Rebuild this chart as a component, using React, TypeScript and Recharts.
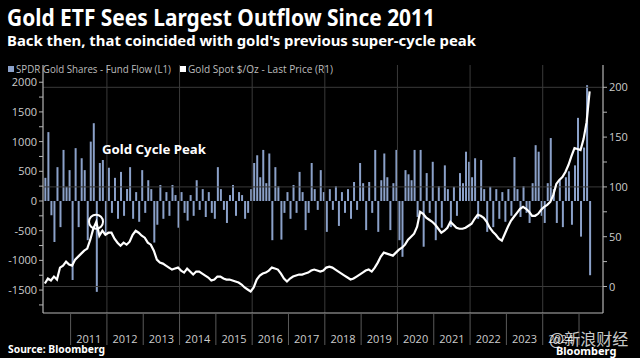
import React from 'react'
import { ComposedChart, Bar, Line, XAxis, YAxis, ReferenceLine, ReferenceDot } from 'recharts'

// SPDR Gold Shares fund flow (L1), monthly
const FLOW_2010 = [390, 1160, -240, -690, 570, -440, 860, 240, 520]
const FLOW_2011 = [-1330, 890, -440, 720, 520, -660, 1000, 1310, -1530, 640, 690, -570]
const FLOW_2012 = [560, -200, 390, -300, 490, -250, 200, 570, -300, 150, -350, 520]
const FLOW_2013 = [-200, 350, 200, -700, -400, 270, -300, 150, -250, 270, 100, -450]
const FLOW_2014 = [150, -200, -330, 100, -250, 350, -150, 200, -270, 150, -200, -300]
const FLOW_2015 = [570, 200, -150, -370, 100, 270, -250, 150, 100, -300, -200, 200]
const FLOW_2016 = [640, 770, 400, 860, 300, 800, -660, 570, 250, -650, -200, 150]
const FLOW_2017 = [-300, 270, -200, 490, 150, -490, -200, 640, 200, -150, 520, 150]
const FLOW_2018 = [-520, 200, -150, 250, -420, 150, -200, 200, -300, 320, -150, 640]
const FLOW_2019 = [300, -490, 320, -200, 860, -520, 350, 800, 400, -490, 300, 860]
const FLOW_2020 = [-660, -940, 520, 450, 350, 860, -270, 860, -770, 470, -200, 660]
const FLOW_2021 = [-660, 250, -450, 600, 200, -440, 240, -250, 470, 300, 830, 660]
const FLOW_2022 = [400, 720, -300, 690, 200, -520, 240, -440, 200, -300, 150, -350]
const FLOW_2023 = [200, -250, 740, 200, -270, 250, -200, -370, 300, 940, 830, -250]
const FLOW_2024 = [-370, 300, 1060, 200, -370, 350, -440, 400, 500, -400, 600, 1400]
const FLOW_2025 = [-600, 900, 1950, -1250]

// Gold spot (R1), monthly
const GOLD_2010 = [3, 8, 6, 10, 7, 19, 21, 25, 22]
const GOLD_2011 = [21, 27, 30, 33, 36, 38, 47, 58, 65, 51, 56, 52]
const GOLD_2012 = [54, 54, 48, 44, 41, 44, 42, 45, 52, 56, 54, 51]
const GOLD_2013 = [49, 44, 42, 36, 27, 24, 23, 21, 19, 17, 18, 19]
const GOLD_2014 = [16, 14, 18, 15, 12, 15, 15, 13, 11, 9, 6, 7]
const GOLD_2015 = [10, 10, 8, 7, 7, 6, 5, 4, 2, -1, -3, -5]
const GOLD_2016 = [-1, 7, 11, 13, 14, 16, 19, 18, 17, 13, 8, 5]
const GOLD_2017 = [8, 10, 11, 12, 12, 13, 14, 16, 17, 16, 15, 16]
const GOLD_2018 = [19, 20, 19, 17, 15, 13, 11, 9, 7, 8, 10, 12]
const GOLD_2019 = [14, 16, 17, 15, 19, 24, 30, 34, 33, 32, 31, 34]
const GOLD_2020 = [37, 39, 42, 47, 50, 53, 60, 75, 73, 69, 67, 65]
const GOLD_2021 = [62, 58, 54, 56, 59, 65, 62, 59, 58, 58, 59, 61]
const GOLD_2022 = [63, 68, 72, 71, 69, 65, 59, 55, 52, 48, 46, 53]
const GOLD_2023 = [60, 66, 70, 74, 78, 80, 78, 75, 71, 71, 73, 77]
const GOLD_2024 = [80, 82, 85, 92, 103, 107, 110, 115, 122, 131, 139, 138]
const GOLD_2025 = [137, 148, 165, 196]

const YEAR_ROWS = [
  { year: 2010, firstMonth: 4, flow: FLOW_2010, gold: GOLD_2010 },
  { year: 2011, firstMonth: 1, flow: FLOW_2011, gold: GOLD_2011 },
  { year: 2012, firstMonth: 1, flow: FLOW_2012, gold: GOLD_2012 },
  { year: 2013, firstMonth: 1, flow: FLOW_2013, gold: GOLD_2013 },
  { year: 2014, firstMonth: 1, flow: FLOW_2014, gold: GOLD_2014 },
  { year: 2015, firstMonth: 1, flow: FLOW_2015, gold: GOLD_2015 },
  { year: 2016, firstMonth: 1, flow: FLOW_2016, gold: GOLD_2016 },
  { year: 2017, firstMonth: 1, flow: FLOW_2017, gold: GOLD_2017 },
  { year: 2018, firstMonth: 1, flow: FLOW_2018, gold: GOLD_2018 },
  { year: 2019, firstMonth: 1, flow: FLOW_2019, gold: GOLD_2019 },
  { year: 2020, firstMonth: 1, flow: FLOW_2020, gold: GOLD_2020 },
  { year: 2021, firstMonth: 1, flow: FLOW_2021, gold: GOLD_2021 },
  { year: 2022, firstMonth: 1, flow: FLOW_2022, gold: GOLD_2022 },
  { year: 2023, firstMonth: 1, flow: FLOW_2023, gold: GOLD_2023 },
  { year: 2024, firstMonth: 1, flow: FLOW_2024, gold: GOLD_2024 },
  { year: 2025, firstMonth: 1, flow: FLOW_2025, gold: GOLD_2025 },
]

const YEAR_TICKS = [2011, 2012, 2013, 2014, 2015, 2016, 2017, 2018, 2019, 2020, 2021, 2022, 2023, 2024, 2025]
const GRID_YEARS = [2012, 2014, 2016, 2018, 2020, 2022, 2024]
const LEFT_TICKS = [-1750, -1500, -1250, -1000, -750, -500, -250, 0, 250, 500, 750, 1000, 1250, 1500, 1750, 2000]
const RIGHT_TICKS = [0, 25, 50, 75, 100, 125, 150, 175, 200]
const RIGHT_GRID = [0, 100, 200]

const X_MIN = 2010.24
const X_MAX = 2025.66
const LEFT_DOMAIN = [-1886, 2290]
const RIGHT_DOMAIN = [-26.6, 222.4]
const PLOT_W = 560
const HALF_YEAR = (0.5 * PLOT_W) / (X_MAX - X_MIN)

const data = YEAR_ROWS.flatMap((r) =>
  r.flow.map((f, k) => ({
    t: r.year + (r.firstMonth - 1 + k + 0.5) / 12,
    flow: f,
    gold: r.gold[k],
  }))
)

const FONT = "'Open Sans', 'DejaVu Sans', sans-serif"
const AXIS = '#b5b5b5'
const LABEL = '#cccccc'
const GRID = '#3a3a3a'

const YearTick = ({ x, y, payload }: any) => {
  if (payload.value >= 2025) return <g />
  return (
    <text x={x + HALF_YEAR} y={y - 4} textAnchor="middle" fill={LABEL} fontSize={11} fontFamily={FONT}>
      {payload.value}
    </text>
  )
}

const LeftTick = ({ x, y, payload }: any) => {
  if (payload.value % 500 !== 0) return <g />
  return (
    <text x={x} y={y} dy={4} textAnchor="end" fill={LABEL} fontSize={11} fontFamily={FONT}>
      {payload.value}
    </text>
  )
}

const RightTick = ({ x, y, payload }: any) => {
  if (payload.value % 50 !== 0) return <g />
  return (
    <text x={x} y={y} dy={4} textAnchor="start" fill={LABEL} fontSize={11} fontFamily={FONT}>
      {payload.value}
    </text>
  )
}

export default function App() {
  return (
    <div style={{ position: 'absolute', left: 0, top: 0, width: 640, height: 358, background: '#000', overflow: 'hidden' }}>
      <div style={{ position: 'absolute', left: 0, top: 0 }}>
        <ComposedChart width={640} height={358} data={data} margin={{ top: 65, right: 0, bottom: 0, left: 0 }}>
          <XAxis
            dataKey="t"
            type="number"
            domain={[X_MIN, X_MAX]}
            allowDataOverflow
            ticks={YEAR_TICKS}
            interval={0}
            height={45}
            tickSize={32}
            tick={<YearTick />}
            axisLine={{ stroke: AXIS, strokeWidth: 1.2 }}
            tickLine={{ stroke: '#5a5a5a' }}
          />
          <YAxis
            yAxisId="left"
            orientation="left"
            width={43}
            domain={LEFT_DOMAIN}
            allowDataOverflow
            ticks={LEFT_TICKS}
            interval={0}
            tickSize={4}
            tick={<LeftTick />}
            axisLine={{ stroke: AXIS, strokeWidth: 1.2 }}
            tickLine={{ stroke: AXIS }}
          />
          <YAxis
            yAxisId="right"
            orientation="right"
            width={37}
            domain={RIGHT_DOMAIN}
            allowDataOverflow
            ticks={RIGHT_TICKS}
            interval={0}
            tickSize={4}
            tick={<RightTick />}
            axisLine={{ stroke: AXIS, strokeWidth: 1.2 }}
            tickLine={{ stroke: AXIS }}
          />
          {GRID_YEARS.map((yr) => (
            <ReferenceLine key={'gx' + yr} x={yr} yAxisId="right" stroke={GRID} strokeWidth={1} />
          ))}
          {RIGHT_GRID.map((v) => (
            <ReferenceLine key={'gy' + v} y={v} yAxisId="right" stroke={GRID} strokeWidth={1} />
          ))}
          <Bar yAxisId="left" dataKey="flow" fill="#8ba1c9" barSize={2} isAnimationActive={false} />
          <Line
            yAxisId="right"
            dataKey="gold"
            type="linear"
            stroke="#ffffff"
            strokeWidth={2.2}
            dot={false}
            isAnimationActive={false}
          />
          <ReferenceDot yAxisId="right" x={2011.7} y={65} r={7} fill="none" stroke="#ffffff" strokeWidth={2} />
        </ComposedChart>
      </div>
      <svg width={640} height={358} style={{ position: 'absolute', left: 0, top: 0, pointerEvents: 'none' }}>
        <text x={7} y={26} fill="#fff" fontSize={23} fontWeight="bold" fontFamily="'Noto Sans', sans-serif" textLength={428} lengthAdjust="spacingAndGlyphs">
          Gold ETF Sees Largest Outflow Since 2011
        </text>
        <text x={7} y={46} fill="#fff" fontSize={14.5} fontWeight="bold" fontFamily="'Noto Sans', sans-serif" textLength={469} lengthAdjust="spacingAndGlyphs">
          Back then, that coincided with gold's previous super-cycle peak
        </text>
        <rect x={8} y={66} width={6} height={6} fill="#8ba1c9" />
        <text x={16} y={73} fill="#bdbdbd" fontSize={10} fontFamily={FONT} textLength={155} lengthAdjust="spacingAndGlyphs">
          SPDR Gold Shares - Fund Flow (L1)
        </text>
        <rect x={180} y={66} width={6} height={6} fill="#ffffff" />
        <text x={188} y={73} fill="#bdbdbd" fontSize={10} fontFamily={FONT} textLength={145} lengthAdjust="spacingAndGlyphs">
          Gold Spot $/Oz - Last Price (R1)
        </text>
        <text x={102} y={154} fill="#fff" fontSize={12.5} fontWeight="bold" fontFamily="'Noto Sans', sans-serif" textLength={104} lengthAdjust="spacingAndGlyphs">
          Gold Cycle Peak
        </text>
        <text x={8} y={353} fill="#fff" fontSize={10} fontWeight="bold" fontFamily="'Noto Sans', sans-serif" textLength={97} lengthAdjust="spacingAndGlyphs">
          Source: Bloomberg
        </text>
        <text x={549} y={345} fill="rgba(255,255,255,0.8)" fontSize={16} fontFamily="'Noto Sans CJK SC', sans-serif">
          @新浪财经
        </text>
        <text x={556} y={355} fill="#fff" fontSize={11} fontWeight="bold" fontFamily="'Noto Sans', sans-serif">
          Bloomberg
        </text>
      </svg>
    </div>
  )
}
